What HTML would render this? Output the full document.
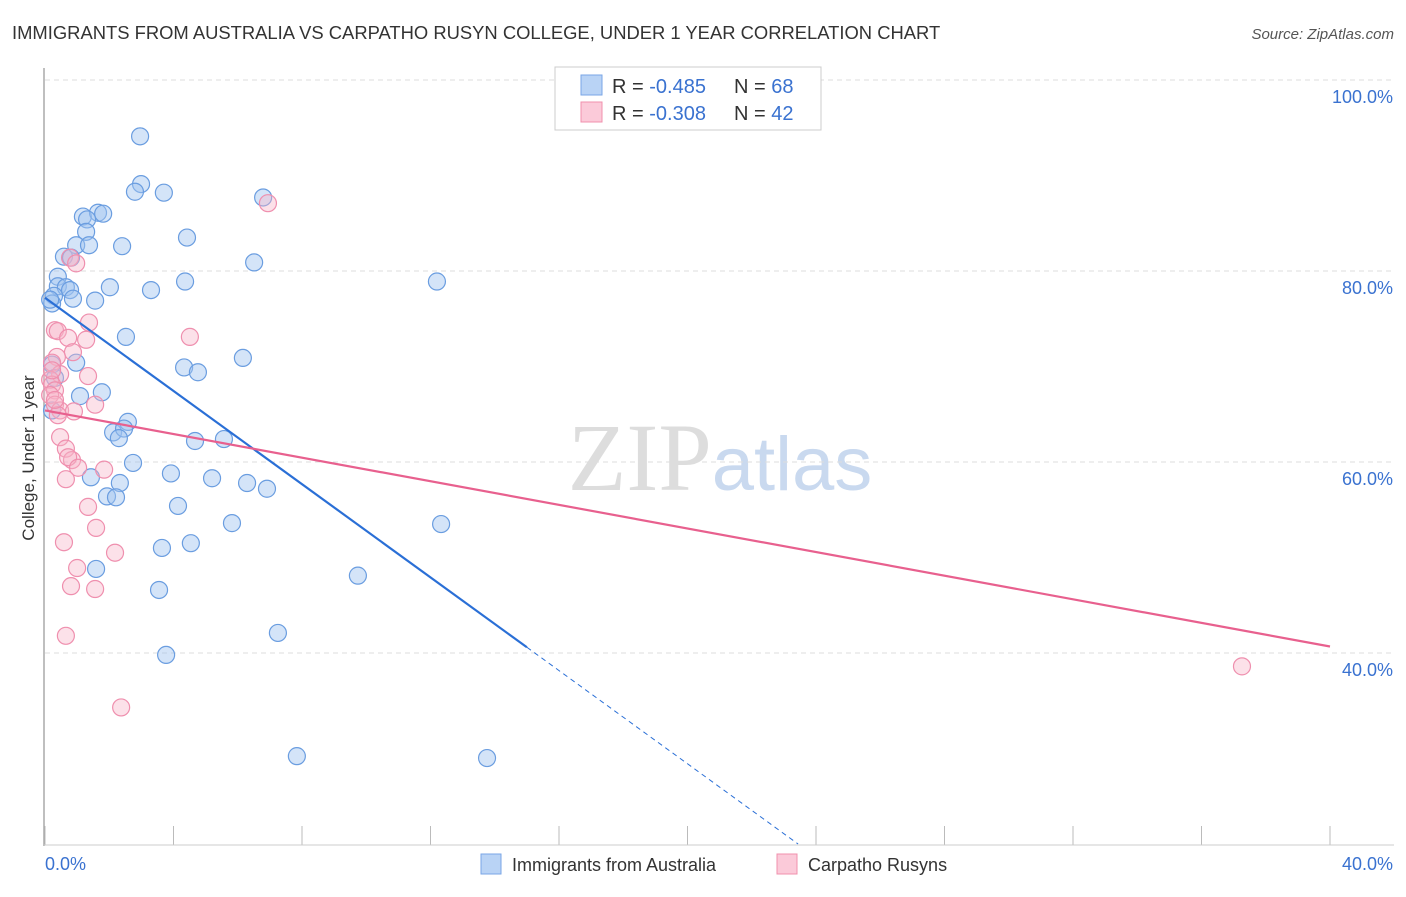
<!DOCTYPE html>
<html><head><meta charset="utf-8"><style>
body{margin:0;background:#fff;font-family:"Liberation Sans",sans-serif}
</style></head><body>
<svg id="chart" width="1406" height="892" xmlns="http://www.w3.org/2000/svg" font-family="Liberation Sans, sans-serif">
<text x="12" y="39" font-size="18.4" fill="#333">IMMIGRANTS FROM AUSTRALIA VS CARPATHO RUSYN COLLEGE, UNDER 1 YEAR CORRELATION CHART</text>
<text x="1394" y="39" font-size="15" fill="#555" font-style="italic" text-anchor="end">Source: ZipAtlas.com</text>
<text x="720" y="490" font-size="96" fill="#ddd" text-anchor="middle" font-family="Liberation Serif, serif">ZIP<tspan fill="#c9d9ef" font-family="Liberation Sans, sans-serif" font-size="76">atlas</tspan></text>
<g id="grid"></g>
<line x1="44" y1="68" x2="44" y2="846" stroke="#aaa" stroke-width="1.5"/>
<line x1="44" y1="845" x2="1394" y2="845" stroke="#ccc"/>
<text transform="translate(34,458) rotate(-90)" font-size="17" fill="#333" text-anchor="middle">College, Under 1 year</text>
<g id="points"></g>
<g id="lines"></g>
<g>
<rect x="555" y="67" width="266" height="63" fill="#fff" stroke="#ccc"/>
<rect x="581" y="75" width="21" height="20" fill="#b9d3f5" stroke="#79a6e6"/>
<rect x="581" y="102" width="21" height="20" fill="#fbcad9" stroke="#f090ad"/>
<text x="612" y="93" font-size="20" fill="#333">R = <tspan fill="#3a72d0">-0.485</tspan></text>
<text x="734" y="93" font-size="20" fill="#333">N = <tspan fill="#3a72d0">68</tspan></text>
<text x="612" y="120" font-size="20" fill="#333">R = <tspan fill="#3a72d0">-0.308</tspan></text>
<text x="734" y="120" font-size="20" fill="#333">N = <tspan fill="#3a72d0">42</tspan></text>
</g>
<g>
<rect x="481" y="854" width="20" height="20" fill="#b9d3f5" stroke="#79a6e6"/>
<text x="512" y="871" font-size="18" fill="#333">Immigrants from Australia</text>
<rect x="777" y="854" width="20" height="20" fill="#fbcad9" stroke="#f090ad"/>
<text x="808" y="871" font-size="18" fill="#333">Carpatho Rusyns</text>
</g>
</svg>
<script>
const blueX=[2.96,2.99,2.80,3.70,6.79,1.18,1.65,1.81,1.31,1.28,0.97,1.37,2.40,4.42,0.59,0.81,6.51,12.20,4.36,3.30,0.40,0.40,0.65,0.78,0.28,0.87,2.02,1.56,0.22,2.52,4.33,4.76,6.16,0.97,0.22,1.77,1.09,2.58,2.12,2.46,2.30,4.67,5.57,2.74,3.92,1.43,5.20,6.29,6.91,2.33,1.93,2.21,4.14,5.82,12.33,3.64,4.54,1.59,9.74,3.55,7.25,3.77,7.84,13.76,0.22,0.16,0.31];
const blueY=[94.1,89.1,88.3,88.2,87.7,85.7,86.1,86.0,85.4,84.1,82.7,82.7,82.6,83.5,81.5,81.4,80.9,78.9,78.9,78.0,79.4,78.4,78.3,78.0,77.4,77.1,78.3,76.9,76.6,73.1,69.9,69.4,70.9,70.4,70.2,67.3,66.9,64.2,63.1,63.5,62.5,62.2,62.4,59.9,58.8,58.4,58.3,57.8,57.2,57.8,56.4,56.3,55.4,53.6,53.5,51.0,51.5,48.8,48.1,46.6,42.1,39.8,29.2,29.0,65.4,77.0,68.8];
const pinkX=[6.94,0.78,0.97,0.31,0.40,1.37,0.72,4.51,1.28,0.87,0.37,0.22,0.47,1.34,0.16,0.22,0.31,0.16,0.31,1.56,0.47,0.90,0.40,0.47,0.65,0.84,0.72,1.03,1.84,0.65,1.34,0.59,1.59,2.18,1.00,0.81,1.56,0.65,2.37,37.26,0.31,0.22];
const pinkY=[87.1,81.4,80.8,73.8,73.7,74.6,73.0,73.1,72.8,71.5,71.0,70.4,69.2,69.0,68.6,68.1,67.5,67.0,66.0,66.0,65.4,65.3,64.9,62.6,61.4,60.2,60.5,59.4,59.2,58.2,55.3,51.6,53.1,50.5,48.9,47.0,46.7,41.8,34.3,38.6,66.5,69.6];
const yTicks=[100,80,60,40];
const xTickLabels=["0.0%","40.0%"];
const blueFit=[77.2,-2.44]; // intercept, slope
const pinkFit=[65.4,-0.618];
const NS="http://www.w3.org/2000/svg";
const sx=v=>45+v*1285/40;
const sy=v=>80+(100-v)*9.55;
const svg=document.getElementById('chart');
const grid=document.getElementById('grid');
function mk(tag,attrs,parent){const e=document.createElementNS(NS,tag);for(const k in attrs)e.setAttribute(k,attrs[k]);parent.appendChild(e);return e;}
yTicks.forEach(t=>{
  const l=mk('line',{x1:45,x2:1394,y1:sy(t),y2:sy(t),stroke:'#ddd','stroke-dasharray':'5,4'},grid);
  
  
  const tx=mk('text',{x:1393,y:sy(t)+23,'font-size':18,fill:'#3a72d0','text-anchor':'end'},grid);
  tx.textContent=t.toFixed(1)+'%';
  
  
});
for(let i=0;i<=10;i++){
  const x=45+i*128.5;
  const l=mk('line',{x1:x,x2:x,y1:826,y2:845,stroke:'#bbb'},grid);
  
  
}
xTickLabels.forEach((s,i)=>{
  const t=mk('text',{x:i?1393:45,y:870,'font-size':18,fill:'#3a72d0','text-anchor':i?'end':'start'},grid);
  t.textContent=s;
  
  
});
const pts=document.getElementById('points');
blueX.forEach((x,i)=>{
  const c=mk('circle',{cx:sx(x),cy:sy(blueY[i]),r:8.5,fill:'rgba(160,195,240,0.45)',stroke:'#6a9de0','stroke-width':1.2},pts);
  
  
});
pinkX.forEach((x,i)=>{
  const c=mk('circle',{cx:sx(x),cy:sy(pinkY[i]),r:8.5,fill:'rgba(248,180,200,0.4)',stroke:'#ef8fae','stroke-width':1.2},pts);
  
  
});
const lines=document.getElementById('lines');
const bs=15.0, be=(blueFit[0]-20)/-blueFit[1];
const b1=mk('line',{x1:sx(0),y1:sy(blueFit[0]),x2:sx(bs),y2:sy(blueFit[0]+blueFit[1]*bs),stroke:'#2a6fd6','stroke-width':2.2},lines);


const b2=mk('line',{x1:sx(bs),y1:sy(blueFit[0]+blueFit[1]*bs),x2:sx(be),y2:sy(20),stroke:'#2a6fd6','stroke-width':1,'stroke-dasharray':'5,4'},lines);


const p1=mk('line',{x1:sx(0),y1:sy(pinkFit[0]),x2:sx(40),y2:sy(pinkFit[0]+pinkFit[1]*40),stroke:'#e8608e','stroke-width':2.2},lines);


</script>
</body></html>
